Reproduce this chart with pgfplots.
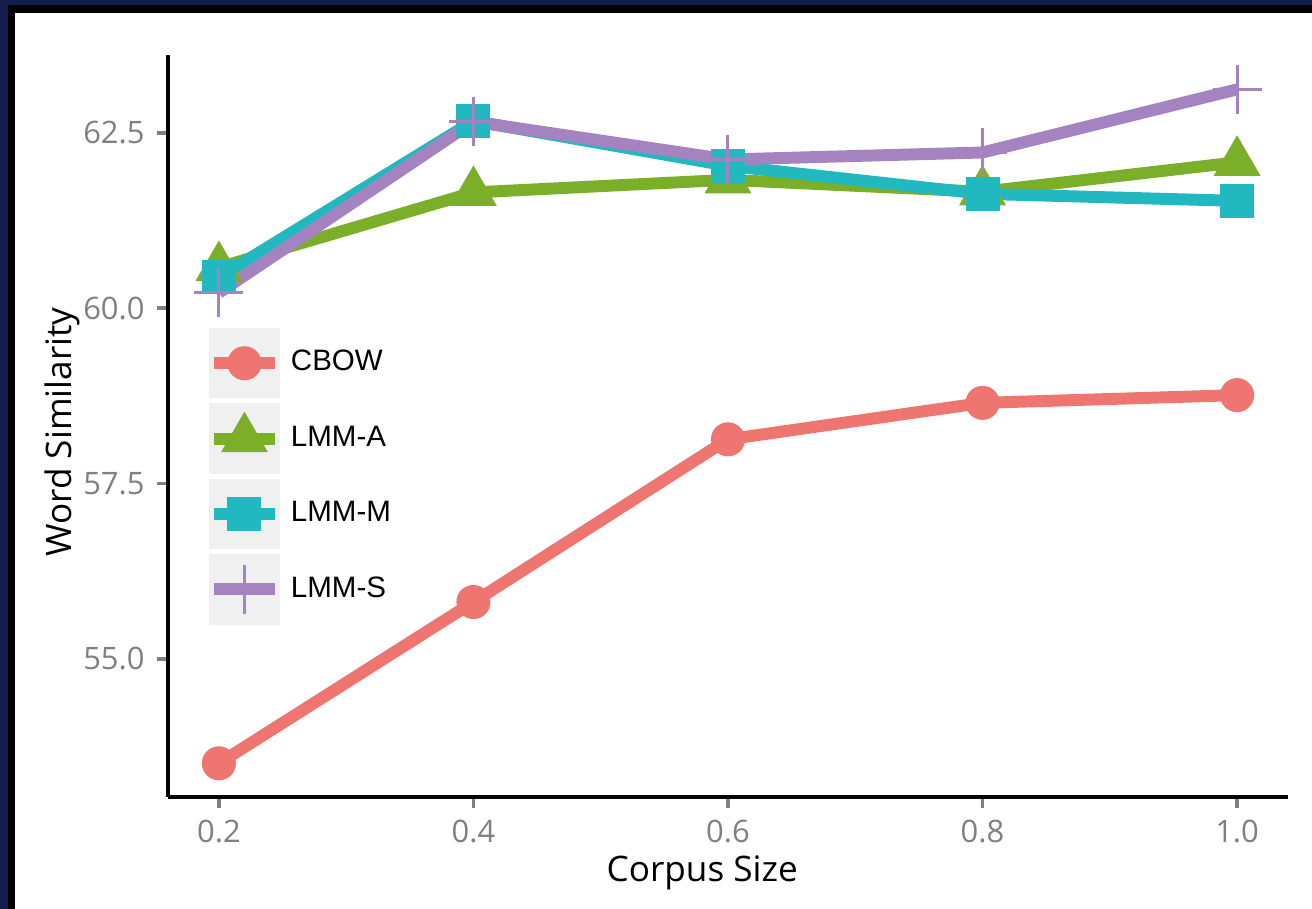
\documentclass[border=0pt]{standalone}
\usepackage{fontspec}
\setmainfont{Open Sans}
\newfontfamily\legfont{Liberation Sans}
\usepackage{pgfplots}
\usepackage{pgfplotstable}
\pgfplotsset{compat=1.18}
\definecolor{cbow}{HTML}{EE7570}
\definecolor{lmma}{HTML}{7BAF2A}
\definecolor{lmmm}{HTML}{22B8C0}
\definecolor{lmms}{HTML}{A583C0}
\definecolor{legbg}{HTML}{F0F0F0}
\definecolor{navyf}{HTML}{14204B}
\definecolor{tickgray}{HTML}{808080}

\pgfplotstableread{
x    cbow   lmma   lmmm   lmms
0.2  53.51  60.58  60.44  60.22
0.4  55.81  61.65  62.67  62.66
0.6  58.13  61.83  62.03  62.12
0.8  58.65  61.66  61.63  62.22
1.0  58.76  62.08  61.53  63.12
}\datatable

\pgfplotsset{
  lkey/.style={legend image code/.code={
    \fill[legbg] (0cm,-0.345cm) rectangle (0.69cm,0.345cm);
    \draw[#1, line width=3.4pt] (0.04cm,0cm) -- (0.65cm,0cm);
    \draw[mark repeat=2,mark phase=2,##1] plot coordinates {(0cm,0cm)(0.345cm,0cm)(0.69cm,0cm)};
  }},
  dline/.style={#1, line width=3.4pt, line join=round, forget plot},
}

\begin{document}
\begin{tikzpicture}
\path[use as bounding box] (0,0) rectangle (13.12,9.09);
\fill[navyf] (0,0) rectangle (13.12,9.09);
\fill[black] (0.08,0) rectangle (13.12,9.04);
\fill[white] (0.15,0) rectangle (13.12,8.96);
\begin{axis}[
  at={(1.68cm,1.12cm)}, anchor=south west,
  scale only axis, width=11.2cm, height=7.42cm,
  xmin=0.16, xmax=1.04, ymin=53.03, ymax=63.61,
  axis x line*=bottom, axis y line*=left,
  axis line style={black, line width=1.1pt, -},
  xtick={0.2,0.4,0.6,0.8,1.0}, ytick={55,57.5,60,62.5},
  tick align=outside, major tick length=0.11cm,
  tick style={tickgray, line width=1pt},
  ticklabel style={font=\fontsize{8.8}{10.5}\selectfont, text=tickgray},
  xticklabel style={/pgf/number format/fixed, /pgf/number format/fixed zerofill, /pgf/number format/precision=1, /pgf/number format/assume math mode=true},
  yticklabel style={/pgf/number format/fixed, /pgf/number format/fixed zerofill, /pgf/number format/precision=1, /pgf/number format/assume math mode=true},
  xlabel={Corpus Size}, ylabel={Word Similarity},
  label style={font=\fontsize{10}{12}\selectfont, text=black},
  every axis x label/.style={at={(axis description cs:0.477,0)}, yshift=-0.76cm, anchor=center},
  every axis y label/.style={at={(axis description cs:0,0.492)}, xshift=-1.06cm, rotate=90, anchor=center},
  clip=false,
  legend style={at={(0.0357,0.632)}, anchor=north west, draw=none, fill=none, inner sep=0pt, outer sep=0pt, row sep=0.05cm, font=\legfont\fontsize{8.4}{10}\selectfont, /tikz/every odd column/.append style={column sep=0.1cm}, nodes={inner sep=0pt}},
  legend cell align=left,
]
\addplot[dline=cbow] table[x=x,y=cbow] {\datatable};
\addplot[dline=lmma] table[x=x,y=lmma] {\datatable};
\addplot[dline=lmmm] table[x=x,y=lmmm] {\datatable};
\addplot[dline=lmms] table[x=x,y=lmms] {\datatable};

\addplot[lkey=cbow, only marks, mark=*, mark size=0.165cm, mark options={fill=cbow, draw=cbow, line width=0.3pt}] table[x=x,y=cbow] {\datatable};
\addlegendentry{CBOW}
\addplot[lkey=lmma, only marks, mark=triangle*, mark size=0.26cm, mark options={fill=lmma, draw=lmma, line width=0.3pt}] table[x=x,y=lmma] {\datatable};
\addlegendentry{LMM-A}
\addplot[lkey=lmmm, only marks, mark=square*, mark size=0.165cm, mark options={fill=lmmm, draw=lmmm, line width=0.3pt}] table[x=x,y=lmmm] {\datatable};
\addlegendentry{LMM-M}
\addplot[lkey=lmms, only marks, mark=+, mark size=0.245cm, mark options={draw=lmms, line width=0.85pt}] table[x=x,y=lmms] {\datatable};
\addlegendentry{LMM-S}
\end{axis}
\end{tikzpicture}
\end{document}
